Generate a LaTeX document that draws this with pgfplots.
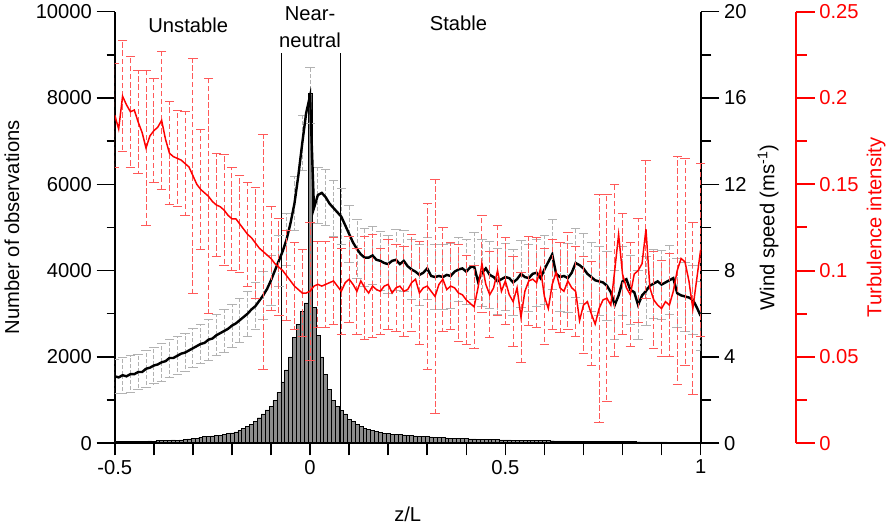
\documentclass[border=0pt]{standalone}
\usepackage{fontspec}
\setmainfont{Liberation Sans}
\usepackage{pgfplots}
\usepackage{pgfplotstable}
\pgfplotsset{compat=1.18}

% cap of an error bar, to one side only
\pgfdeclareplotmark{lcap}{%
  \pgfpathmoveto{\pgfqpoint{-2\pgfplotmarksize}{0pt}}%
  \pgfpathlineto{\pgfqpoint{0pt}{0pt}}%
  \pgfusepathqstroke}

\definecolor{bargray}{RGB}{140,140,140}

\pgfplotstableread{
x n
-0.50 30
-0.49 35
-0.48 40
-0.47 35
-0.46 40
-0.45 45
-0.44 40
-0.43 45
-0.42 50
-0.41 55
-0.40 50
-0.39 60
-0.38 65
-0.37 60
-0.36 70
-0.35 75
-0.34 70
-0.33 80
-0.32 90
-0.31 100
-0.30 110
-0.29 120
-0.28 140
-0.27 150
-0.26 160
-0.25 170
-0.24 180
-0.23 190
-0.22 205
-0.21 220
-0.20 240
-0.19 265
-0.18 300
-0.17 340
-0.16 390
-0.15 440
-0.14 500
-0.13 590
-0.12 680
-0.11 770
-0.10 860
-0.09 990
-0.08 1180
-0.07 1420
-0.06 1700
-0.05 2000
-0.04 2450
-0.03 2750
-0.02 3050
-0.01 3250
0.00 8100
0.01 3150
0.02 2500
0.03 2000
0.04 1600
0.05 1250
0.06 1000
0.07 860
0.08 760
0.09 680
0.10 560
0.11 500
0.12 440
0.13 390
0.14 350
0.15 320
0.16 300
0.17 270
0.18 250
0.19 235
0.20 220
0.21 212
0.22 205
0.23 200
0.24 195
0.25 185
0.26 178
0.27 170
0.28 165
0.29 160
0.30 152
0.31 146
0.32 140
0.33 135
0.34 130
0.35 125
0.36 120
0.37 116
0.38 112
0.39 108
0.40 105
0.41 100
0.42 98
0.43 95
0.44 92
0.45 90
0.46 87
0.47 84
0.48 82
0.49 80
0.50 78
0.51 75
0.52 73
0.53 72
0.54 70
0.55 68
0.56 66
0.57 65
0.58 63
0.59 62
0.60 60
0.61 58
0.62 57
0.63 55
0.64 54
0.65 53
0.66 52
0.67 50
0.68 49
0.69 48
0.70 47
0.71 46
0.72 45
0.73 44
0.74 43
0.75 42
0.76 41
0.77 40
0.78 39
0.79 38
0.80 37
0.81 36
0.82 35
0.83 35
0.84 34
0.85 33
0.86 32
0.87 31
0.88 30
0.89 30
0.90 29
0.91 28
0.92 27
0.93 26
0.94 25
0.95 24
0.96 23
0.97 22
0.98 22
0.99 21
1.00 20
}\histo

\pgfplotstableread{
x u e
-0.50 3.10 0.80
-0.49 3.05 0.80
-0.48 3.15 0.82
-0.47 3.10 0.80
-0.46 3.20 0.85
-0.45 3.20 0.80
-0.44 3.30 0.82
-0.43 3.30 0.80
-0.42 3.45 0.85
-0.41 3.50 0.82
-0.40 3.60 0.85
-0.39 3.65 0.85
-0.38 3.75 0.88
-0.37 3.80 0.85
-0.36 3.95 0.88
-0.35 3.95 0.85
-0.34 4.05 0.88
-0.33 4.15 0.90
-0.32 4.20 0.88
-0.31 4.30 0.90
-0.30 4.40 0.90
-0.29 4.50 0.92
-0.28 4.60 0.90
-0.27 4.65 0.92
-0.26 4.80 0.95
-0.25 4.85 0.92
-0.24 5.00 0.95
-0.23 5.10 0.95
-0.22 5.20 0.98
-0.21 5.30 0.95
-0.20 5.45 1.00
-0.19 5.55 1.00
-0.18 5.70 1.02
-0.17 5.85 1.00
-0.16 6.00 1.05
-0.15 6.20 1.05
-0.14 6.35 1.08
-0.13 6.60 1.10
-0.12 6.85 1.10
-0.11 7.15 1.12
-0.10 7.55 1.15
-0.09 8.00 1.15
-0.08 8.45 1.18
-0.07 8.90 1.20
-0.06 9.45 1.20
-0.05 10.20 1.22
-0.04 11.10 1.25
-0.03 12.40 1.25
-0.02 13.90 1.28
-0.01 15.30 1.30
0.00 16.10 1.30
0.01 10.90 1.30
0.02 11.50 1.30
0.03 11.60 1.32
0.04 11.40 1.30
0.05 11.10 1.35
0.06 10.90 1.30
0.07 10.70 1.32
0.08 10.50 1.30
0.09 10.10 1.32
0.10 9.70 1.30
0.11 9.30 1.35
0.12 9.00 1.35
0.13 8.75 1.38
0.14 8.60 1.35
0.15 8.60 1.40
0.16 8.70 1.35
0.17 8.50 1.38
0.18 8.45 1.35
0.19 8.35 1.40
0.20 8.30 1.35
0.21 8.45 1.38
0.22 8.50 1.40
0.23 8.30 1.35
0.24 8.45 1.40
0.25 8.20 1.38
0.26 8.05 1.40
0.27 7.95 1.35
0.28 7.80 1.40
0.29 7.90 1.38
0.30 8.10 1.45
0.31 7.75 1.45
0.32 7.70 1.50
0.33 7.75 1.45
0.34 7.70 1.50
0.35 7.80 1.48
0.36 7.75 1.50
0.37 7.95 1.45
0.38 8.05 1.50
0.39 8.10 1.48
0.40 7.95 1.50
0.41 8.15 1.50
0.42 8.20 1.55
0.43 7.50 1.50
0.44 7.90 1.55
0.45 8.10 1.50
0.46 7.80 1.55
0.47 7.70 1.50
0.48 7.50 1.55
0.49 7.60 1.50
0.50 7.70 1.55
0.51 7.65 1.50
0.52 7.45 1.55
0.53 7.60 1.50
0.54 7.85 1.55
0.55 7.70 1.50
0.56 7.65 1.55
0.57 7.85 1.50
0.58 7.90 1.55
0.59 7.65 1.50
0.60 8.05 1.60
0.61 8.40 1.55
0.62 8.75 1.60
0.63 7.85 1.55
0.64 7.70 1.60
0.65 7.75 1.55
0.66 7.65 1.60
0.67 7.90 1.55
0.68 8.35 1.60
0.69 8.25 1.55
0.70 8.10 1.60
0.71 7.85 1.55
0.72 7.70 1.60
0.73 7.55 1.55
0.74 7.50 1.60
0.75 7.45 1.55
0.76 7.30 1.60
0.77 7.00 1.55
0.78 6.40 1.60
0.79 6.85 1.55
0.80 7.50 1.60
0.81 7.60 1.55
0.82 7.10 1.60
0.83 7.00 1.55
0.84 6.40 1.60
0.85 6.85 1.55
0.86 7.05 1.60
0.87 7.30 1.55
0.88 7.40 1.60
0.89 7.50 1.55
0.90 7.35 1.60
0.91 7.45 1.55
0.92 7.55 1.60
0.93 7.65 1.55
0.94 6.95 1.60
0.95 6.85 1.55
0.96 6.80 1.60
0.97 6.75 1.55
0.98 6.65 1.60
0.99 6.30 1.55
1.00 5.90 1.60
}\wind

\pgfplotstableread{
x t e
-0.50 0.190 0.030
-0.49 0.182 0.030
-0.48 0.201 0.032
-0.47 0.196 0.030
-0.46 0.192 0.032
-0.45 0.193 0.030
-0.44 0.186 0.030
-0.43 0.180 0.030
-0.42 0.171 0.045
-0.41 0.178 0.030
-0.40 0.181 0.030
-0.39 0.183 0.030
-0.38 0.187 0.040
-0.37 0.176 0.030
-0.36 0.168 0.030
-0.35 0.166 0.028
-0.34 0.165 0.028
-0.33 0.164 0.030
-0.32 0.162 0.030
-0.31 0.160 0.030
-0.30 0.155 0.068
-0.29 0.150 0.030
-0.28 0.147 0.035
-0.27 0.145 0.030
-0.26 0.143 0.068
-0.25 0.140 0.030
-0.24 0.138 0.030
-0.23 0.137 0.030
-0.22 0.135 0.032
-0.21 0.132 0.030
-0.20 0.130 0.030
-0.19 0.130 0.030
-0.18 0.127 0.028
-0.17 0.124 0.030
-0.16 0.121 0.030
-0.15 0.119 0.030
-0.14 0.116 0.032
-0.13 0.113 0.030
-0.12 0.111 0.068
-0.11 0.109 0.030
-0.10 0.107 0.030
-0.09 0.104 0.028
-0.08 0.102 0.028
-0.07 0.100 0.026
-0.06 0.097 0.026
-0.05 0.094 0.025
-0.04 0.091 0.025
-0.03 0.089 0.025
-0.02 0.087 0.025
-0.01 0.087 0.025
0.00 0.088 0.040
0.01 0.091 0.025
0.02 0.092 0.025
0.03 0.091 0.024
0.04 0.092 0.025
0.05 0.093 0.024
0.06 0.094 0.025
0.07 0.091 0.024
0.08 0.088 0.025
0.09 0.093 0.024
0.10 0.095 0.025
0.11 0.092 0.024
0.12 0.088 0.025
0.13 0.094 0.025
0.14 0.090 0.030
0.15 0.087 0.025
0.16 0.091 0.030
0.17 0.089 0.025
0.18 0.088 0.025
0.19 0.091 0.025
0.20 0.092 0.026
0.21 0.087 0.025
0.22 0.090 0.025
0.23 0.091 0.025
0.24 0.088 0.026
0.25 0.089 0.025
0.26 0.093 0.028
0.27 0.095 0.025
0.28 0.087 0.030
0.29 0.090 0.025
0.30 0.091 0.048
0.31 0.088 0.025
0.32 0.085 0.068
0.33 0.092 0.025
0.34 0.095 0.030
0.35 0.089 0.025
0.36 0.091 0.025
0.37 0.090 0.025
0.38 0.087 0.028
0.39 0.086 0.025
0.40 0.083 0.026
0.41 0.081 0.025
0.42 0.079 0.024
0.43 0.090 0.025
0.44 0.104 0.028
0.45 0.092 0.025
0.46 0.086 0.025
0.47 0.090 0.025
0.48 0.100 0.026
0.49 0.088 0.025
0.50 0.094 0.025
0.51 0.086 0.025
0.52 0.082 0.026
0.53 0.090 0.025
0.54 0.073 0.026
0.55 0.088 0.025
0.56 0.094 0.026
0.57 0.095 0.025
0.58 0.093 0.026
0.59 0.101 0.025
0.60 0.085 0.028
0.61 0.078 0.025
0.62 0.092 0.026
0.63 0.099 0.025
0.64 0.090 0.026
0.65 0.088 0.025
0.66 0.094 0.028
0.67 0.090 0.025
0.68 0.088 0.026
0.69 0.071 0.025
0.70 0.080 0.028
0.71 0.082 0.025
0.72 0.075 0.030
0.73 0.069 0.025
0.74 0.078 0.066
0.75 0.083 0.025
0.76 0.084 0.060
0.77 0.080 0.025
0.78 0.100 0.050
0.79 0.121 0.030
0.80 0.098 0.035
0.81 0.090 0.025
0.82 0.086 0.030
0.83 0.098 0.025
0.84 0.100 0.030
0.85 0.104 0.025
0.86 0.124 0.040
0.87 0.090 0.025
0.88 0.083 0.028
0.89 0.080 0.025
0.90 0.078 0.028
0.91 0.082 0.025
0.92 0.080 0.030
0.93 0.088 0.025
0.94 0.100 0.066
0.95 0.107 0.030
0.96 0.105 0.060
0.97 0.094 0.030
0.98 0.078 0.050
0.99 0.095 0.030
1.00 0.112 0.050
}\turb

\begin{document}
\begin{tikzpicture}[font=\fontsize{15}{20}\selectfont]
\pgfplotsset{
  every axis/.append style={scale only axis, width=435.75pt, height=321pt,
    xmin=-0.5, xmax=1, tick align=outside, scaled ticks=false,
    /pgf/number format/assume math mode=true,
    axis line style={line width=1.1pt}, tick style={line width=1.1pt, black}},
}
% histogram, left axis
\begin{axis}[axis x line=none, axis y line*=left, ymin=0, ymax=10000,
  ytick={0,2000,4000,6000,8000,10000},
  yticklabels={0,2000,4000,6000,8000,10000},
  minor ytick={1000,3000,5000,7000,9000},
  major tick length=13.5pt, minor tick length=6pt,
  ylabel={Number of observations},
  every axis y label/.style={at={(axis description cs:-0.1756,0.5)}, rotate=90, anchor=center}]
\addplot[ybar, bar width=0.01, fill=bargray, draw=black, line width=0.35pt]
  table[x=x, y=n] {\histo};
\end{axis}
% x axis, regime lines and names
\begin{axis}[axis x line*=bottom, axis y line=none, ymin=0, ymax=10000, clip=false,
  xtick={-0.5,0,0.5,1}, xticklabels={-0.5,0,0.5,1},
  minor xtick={-0.4,-0.3,-0.2,-0.1,0.1,0.2,0.3,0.4,0.6,0.7,0.8,0.9},
  major tick length=9pt, minor tick length=9pt,
  xlabel={z/L},
  every axis x label/.style={at={(axis description cs:0.5,-0.1636)}, anchor=center}]
\addplot[black, line width=0.8pt] coordinates {(-0.073,0) (-0.073,9040)};
\addplot[black, line width=0.8pt] coordinates {(0.078,0) (0.078,9040)};
\node at (axis cs:-0.312,9673) {Unstable};
\node[align=center] at (axis cs:0,9640) {Near-\\neutral};
\node at (axis cs:0.38,9720) {Stable};
\end{axis}
% wind speed
\begin{axis}[axis x line=none, axis y line*=right, ymin=0, ymax=20,
  ytick={0,4,8,12,16,20}, yticklabels={0,4,8,12,16,20},
  minor ytick={2,6,10,14,18},
  major tick length=14pt, minor tick length=8pt,
  axis line style={line width=1.5pt},
  ylabel={Wind speed (ms\textsuperscript{-1})},
  every axis y label/.style={at={(axis description cs:1.1153,0.5)}, rotate=90, anchor=center}]
\addplot[draw=none, forget plot, each nth point=2,
  error bars/.cd, y dir=both, y explicit, error mark=lcap,
  error bar style={draw=gray!60, line width=0.6pt, dash pattern=on 3pt off 1.5pt},
  error mark options={rotate=90, solid, draw=gray!60, line width=0.6pt, mark size=3.5pt}]
  table[x=x, y=u, y error=e] {\wind};
\addplot[black, line width=1.8pt] table[x=x, y=u] {\wind};
\end{axis}
% turbulence intensity, axis moved to the right
\begin{axis}[width=507pt, xmax=1.24527,
  axis x line=none, axis y line*=right, ymin=0, ymax=0.25,
  ytick={0,0.05,0.1,0.15,0.2,0.25}, yticklabels={0,0.05,0.1,0.15,0.2,0.25},
  minor ytick={0.025,0.075,0.125,0.175,0.225},
  major tick length=13.5pt, minor tick length=7.5pt,
  axis line style={line width=1.5pt, red}, tick style={line width=1.5pt, red},
  yticklabel style={text=red},
  ylabel={Turbulence intensity},
  every axis y label/.style={at={(axis description cs:1.1169,0.5)}, rotate=90, anchor=center, text=red}]
\addplot[draw=none, forget plot, each nth point=2,
  error bars/.cd, y dir=both, y explicit, error mark=lcap,
  error bar style={draw=red!65, line width=0.7pt, dash pattern=on 4pt off 2pt},
  error mark options={rotate=90, solid, draw=red!65, line width=0.7pt, mark size=3.5pt}]
  table[x=x, y=t, y error=e] {\turb};
\addplot[red, line width=1.1pt] table[x=x, y=t] {\turb};
\end{axis}
\end{tikzpicture}
\end{document}
